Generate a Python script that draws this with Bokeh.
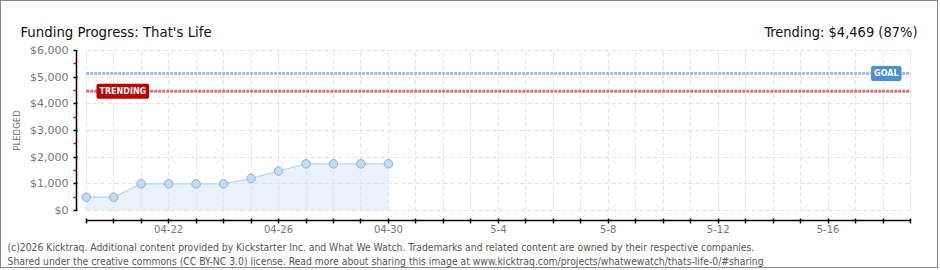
from bokeh.plotting import figure
from bokeh.models import (FixedTicker, NumeralTickFormatter, Label, Range1d)
from bokeh.embed import file_html
from bokeh.resources import INLINE

# ---------------- data ----------------
dates = ["04-19", "04-20", "04-21", "04-22", "04-23", "04-24", "04-25",
         "04-26", "04-27", "04-28", "04-29", "04-30"]
pledged = [500, 500, 1000, 1000, 1000, 1000, 1200, 1480, 1750, 1750, 1750, 1750]
goal = 5137
trending = 4469
n_axis_days = 31  # 04-19 .. 05-19
tick_label_days = [3, 7, 11, 15, 19, 23, 27]
tick_label_text = ["04-22", "04-26", "04-30", "5-4", "5-8", "5-12", "5-16"]
y_ticks = [0, 1000, 2000, 3000, 4000, 5000, 6000]
y_minor = [500, 1500, 2500, 3500, 4500, 5500]

title_text = "Funding Progress: That's Life"
trend_text = "Trending: $4,469 (87%)"
footer1 = ("(c)2026 Kicktraq. Additional content provided by Kickstarter Inc. and What We Watch. "
           "Trademarks and related content are owned by their respective companies.")
footer2 = ("Shared under the creative commons (CC BY-NC 3.0) license. Read more about sharing this "
           "image at www.kicktraq.com/projects/whatwewatch/thats-life-0/#sharing")

x = list(range(len(dates)))
axis_days = list(range(n_axis_days))
last_day = axis_days[-1]
y_top = y_ticks[-1]

# ---------------- figure ----------------
# the frame covers the whole canvas; axes are placed with fixed_location
p = figure(width=938, height=268, output_backend="svg", toolbar_location=None,
           min_border=0,
           x_range=Range1d(-3.083, 31.056), y_range=Range1d(-2212.5, 7837.5))
p.styles = {"border": "1px solid #888888"}
p.outline_line_color = None
p.background_fill_color = "white"
p.border_fill_color = "white"

x_axis_at = -375      # data y where the x axis line sits
y_axis_at = -0.353    # data x where the y axis line sits

# axes
xa = p.xaxis[0]
xa.fixed_location = x_axis_at
xa.ticker = FixedTicker(ticks=axis_days, minor_ticks=[])
xa.major_label_overrides = {d: "" for d in axis_days}
xa.major_label_overrides.update({d: t for d, t in zip(tick_label_days, tick_label_text)})
xa.bounds = (0, last_day)
xa.axis_line_color = "black"
xa.axis_line_width = 1.5
xa.major_tick_line_color = "black"
xa.major_tick_line_width = 1.5
xa.major_tick_in = 2
xa.major_tick_out = 3
xa.minor_tick_line_color = None
xa.major_label_standoff = 1
xa.major_label_text_font = "DejaVu Sans"
xa.major_label_text_font_size = "10px"
xa.major_label_text_color = "#777777"

ya = p.yaxis[0]
ya.fixed_location = y_axis_at
ya.ticker = FixedTicker(ticks=y_ticks, minor_ticks=y_minor)
ya.formatter = NumeralTickFormatter(format="$0,0")
ya.bounds = (0, y_top)
ya.axis_line_color = "black"
ya.axis_line_width = 1.5
ya.major_tick_line_color = "black"
ya.major_tick_line_width = 1.5
ya.major_tick_in = 1
ya.major_tick_out = 3
ya.minor_tick_line_color = "#e00000"
ya.minor_tick_line_width = 1.5
ya.minor_tick_in = 0
ya.minor_tick_out = 3
ya.major_label_standoff = 5
ya.major_label_text_font = "DejaVu Sans"
ya.major_label_text_font_size = "11px"
ya.major_label_text_color = "#777777"
ya.axis_label = "PLEDGED"
ya.axis_label_text_font = "DejaVu Sans Condensed"
ya.axis_label_text_font_size = "9.5px"
ya.axis_label_text_font_style = "normal"
ya.axis_label_text_color = "#777777"
ya.axis_label_standoff = 5

# grids
p.xgrid.ticker = FixedTicker(ticks=axis_days)
p.ygrid.ticker = FixedTicker(ticks=y_ticks)
for g in (p.xgrid[0], p.ygrid[0]):
    g.grid_line_color = "#e2e2e2"
    g.grid_line_dash = "4 3"
    g.grid_line_width = 1
p.xgrid[0].cross_bounds = (0, y_top)
p.ygrid[0].cross_bounds = (0, last_day)

# goal / trending lines
p.line([0, last_day], [goal, goal], line_color="#9cbde5", line_width=3, line_dash="3 1")
p.line([0, last_day], [trending, trending], line_color="#d47474", line_width=3, line_dash="3 1")

# data
p.varea(x=x, y1=[0] * len(x), y2=pledged, fill_color="#d4e5f8", fill_alpha=0.5)
p.line(x, pledged, line_color="#b7d3f2", line_width=1.2)
p.scatter(x, pledged, size=8.5, marker="circle", fill_color="#c4dbf5", line_color="#8fb0d8", line_width=1)

# labels on lines
p.add_layout(Label(x=95, y=trending, x_units="screen", y_units="data", text="TRENDING",
                   text_font="DejaVu Sans", text_font_size="8px", text_font_style="bold",
                   text_color="white", text_baseline="middle", text_align="left",
                   background_fill_color="#c00000", padding=3, border_radius=2))
p.add_layout(Label(x=900, y=goal, x_units="screen", y_units="data", text="GOAL",
                   text_font="DejaVu Sans", text_font_size="8px", text_font_style="bold",
                   text_color="white", text_baseline="middle", text_align="right",
                   background_fill_color="#4a8fd8", padding=3, border_radius=2))

# header / footer texts (screen units, measured from the frame's bottom-left)
p.add_layout(Label(x=19, y=238, x_units="screen", y_units="screen", text=title_text,
                   text_font="DejaVu Sans Condensed", text_font_size="14.8px",
                   text_color="#111111", text_baseline="alphabetic", text_align="left"))
p.add_layout(Label(x=916, y=238, x_units="screen", y_units="screen", text=trend_text,
                   text_font="DejaVu Sans Condensed", text_font_size="14.5px",
                   text_color="#111111", text_baseline="alphabetic", text_align="right"))
p.add_layout(Label(x=6, y=23, x_units="screen", y_units="screen", text=footer1,
                   text_font="DejaVu Sans Condensed", text_font_size="10.3px",
                   text_color="#555555", text_baseline="alphabetic", text_align="left"))
p.add_layout(Label(x=6, y=9, x_units="screen", y_units="screen", text=footer2,
                   text_font="DejaVu Sans Condensed", text_font_size="10.3px",
                   text_color="#555555", text_baseline="alphabetic", text_align="left"))

open("out.html", "w").write(file_html(p, INLINE))
